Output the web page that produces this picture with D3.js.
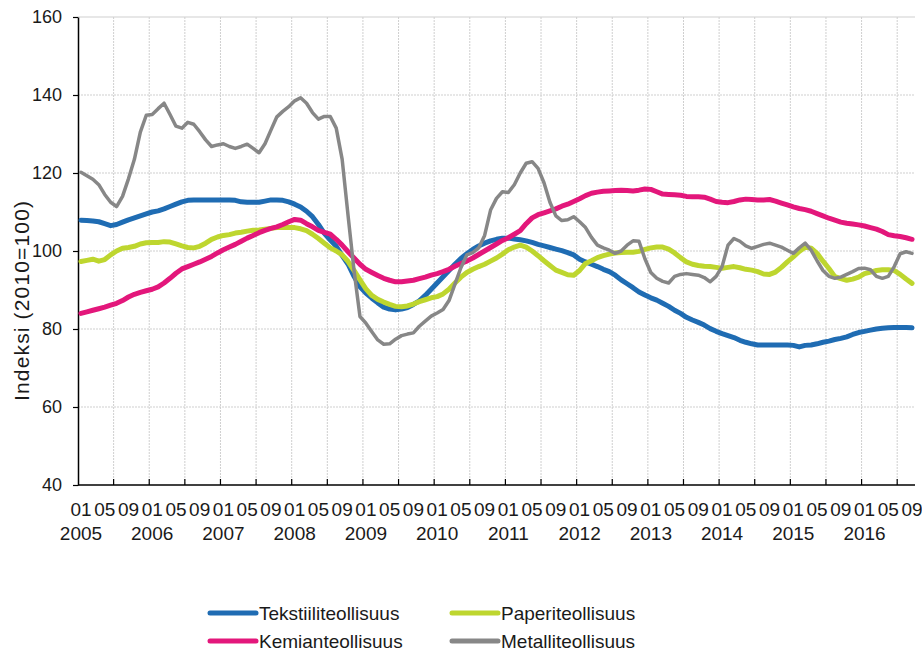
<!DOCTYPE html>
<html>
<head>
<meta charset="utf-8">
<script src="https://cdn.jsdelivr.net/npm/d3@7"></script>
<style>
body { margin: 0; background: #fff; }
text { font-family: "Liberation Sans", Arial, sans-serif; fill: #1a1a1a; }
</style>
</head>
<body>
<div class="chart"></div>
<script>
// categories
const years = [2005, 2006, 2007, 2008, 2009, 2010, 2011, 2012, 2013, 2014, 2015, 2016]
const lastMonth = 9            // data runs to 2016-09
const monthTickLabels = ["01", "05", "09"]
const yTicks = [40, 60, 80, 100, 120, 140, 160]

// series values, monthly, 2005-01 .. 2016-09
const tekstiili = [
    107.9, 107.8, 107.7, 107.5, 107.0, 106.5, 106.8, 107.4, 108.0, 108.5, 109.0, 109.5,
    110.0, 110.3, 110.8, 111.4, 112.0, 112.6, 113.0, 113.1, 113.1, 113.1, 113.1, 113.1,
    113.1, 113.1, 113.0, 112.6, 112.5, 112.5, 112.5, 112.8, 113.1, 113.1, 113.0, 112.6,
    112.0, 111.3, 110.2, 108.8, 106.8, 104.5, 102.8, 101.2, 98.8, 96.6, 93.5, 90.8,
    89.2, 87.9, 86.7, 85.6, 85.1, 84.9, 85.1, 85.5, 86.3, 87.2, 88.6, 90.2,
    91.8, 93.4, 95.0, 96.6, 98.1, 99.3, 100.4, 101.3, 102.0, 102.6, 103.0, 103.3,
    103.3, 103.1, 102.9, 102.6, 102.2, 101.7, 101.3, 100.9, 100.5, 100.1, 99.6, 99.0,
    97.9, 97.2, 96.6, 96.0, 95.3, 94.7, 93.8, 92.6, 91.6, 90.6, 89.5, 88.7,
    88.0, 87.4, 86.6, 85.8, 84.8, 84.0, 83.0, 82.3, 81.7, 81.0, 80.1, 79.4,
    78.8, 78.3, 77.8, 77.1, 76.6, 76.2, 75.9, 75.9, 75.9, 75.9, 75.9, 75.9,
    75.8, 75.4, 75.8, 75.9, 76.2, 76.6, 76.9, 77.3, 77.6, 78.0, 78.6, 79.1,
    79.4, 79.7, 80.0, 80.2, 80.3, 80.4, 80.4, 80.4, 80.3
]
const paperi = [
    97.3, 97.6, 97.9, 97.4, 97.8, 99.0, 100.0, 100.7, 100.9, 101.2, 101.8, 102.1,
    102.2, 102.2, 102.4, 102.3, 101.8, 101.3, 100.9, 100.8, 101.2, 102.0, 103.0, 103.6,
    104.0, 104.2, 104.6, 104.8, 105.1, 105.3, 105.4, 105.6, 105.8, 106.0, 106.0, 106.0,
    106.0, 105.7, 105.2, 104.3, 103.2, 102.0, 100.8, 100.0, 99.0, 97.3, 95.0, 92.6,
    90.3, 88.6, 87.6, 86.9, 86.3, 85.8, 85.7, 85.9, 86.4, 87.0, 87.5, 88.0,
    88.3, 89.0, 90.2, 91.8, 93.3, 94.5, 95.3, 96.0, 96.6, 97.4, 98.2, 99.2,
    100.3, 101.0, 101.5, 101.0, 100.0, 98.8, 97.5, 96.3, 95.1, 94.5, 93.9, 93.8,
    95.0, 96.8, 97.5, 98.3, 98.8, 99.2, 99.5, 99.6, 99.7, 99.7, 99.9, 100.4,
    100.8, 101.0, 101.0, 100.5, 99.5, 98.3, 97.2, 96.6, 96.3, 96.1, 96.0, 95.8,
    95.6, 95.8, 96.0, 95.7, 95.3, 95.1, 94.7, 94.1, 94.0, 94.6, 95.8, 97.2,
    98.5, 99.9, 101.0, 100.7, 99.4, 97.4, 95.5, 93.4, 92.9, 92.5, 92.8, 93.3,
    94.2, 94.6, 95.0, 95.2, 95.2, 95.0, 94.0, 92.8, 91.7
]
const kemian = [
    84.0, 84.4, 84.8, 85.2, 85.6, 86.1, 86.6, 87.3, 88.2, 88.9, 89.4, 89.8,
    90.2, 90.8, 91.8, 93.0, 94.3, 95.4, 96.0, 96.6, 97.2, 97.9, 98.6, 99.5,
    100.3, 101.0, 101.7, 102.5, 103.3, 104.0, 104.7, 105.3, 105.8, 106.2, 106.8, 107.5,
    108.1, 107.9, 107.0, 106.2, 105.3, 104.8, 104.3, 103.0, 101.5, 99.8, 98.2, 96.6,
    95.3, 94.5, 93.7, 93.0, 92.5, 92.1, 92.1, 92.3, 92.5, 92.9, 93.3, 93.8,
    94.2, 94.7, 95.3, 96.1, 96.8, 97.4, 98.2, 99.1, 100.0, 100.9, 101.8, 102.7,
    103.4, 104.3, 105.2, 107.0, 108.5, 109.3, 109.8, 110.3, 110.8, 111.5, 112.0, 112.7,
    113.4, 114.2, 114.8, 115.1, 115.3, 115.4, 115.5, 115.6, 115.5, 115.4, 115.6, 115.9,
    115.8, 115.2, 114.6, 114.5, 114.4, 114.3, 114.0, 113.9, 113.9, 113.8, 113.3, 112.7,
    112.5, 112.4, 112.7, 113.1, 113.3, 113.2, 113.1, 113.1, 113.2, 112.8, 112.3, 111.8,
    111.3, 110.9, 110.6, 110.2, 109.6, 109.0, 108.4, 107.9, 107.4, 107.1, 106.9, 106.7,
    106.4, 106.0, 105.6, 105.0, 104.2, 103.9, 103.7, 103.4, 103.0
]
const metalli = [
    120.2, 119.3, 118.4, 117.0, 114.5, 112.5, 111.4, 114.0, 118.5, 123.5, 130.5, 134.8,
    135.0, 136.5, 137.9, 135.0, 132.0, 131.5, 133.0, 132.5, 130.6, 128.5, 126.8, 127.2,
    127.5, 126.8, 126.3, 126.8, 127.4, 126.3, 125.2, 127.5, 131.0, 134.4, 135.8, 137.0,
    138.5, 139.3, 137.9, 135.5, 133.8, 134.5, 134.5, 131.5, 123.5, 109.0, 95.0, 83.2,
    81.5, 79.3, 77.2, 76.1, 76.2, 77.4, 78.3, 78.7, 79.0, 80.7, 82.0, 83.3,
    84.1, 85.0, 87.3, 91.5, 95.7, 99.0, 99.6, 100.8, 104.0, 110.5, 113.5, 115.2,
    115.0, 117.0, 120.0, 122.5, 122.9, 121.2, 117.5, 112.5, 109.0, 107.8, 108.0, 108.8,
    107.5, 106.0, 103.5, 101.5, 100.8, 100.2, 99.4, 100.0, 101.5, 102.6, 102.5, 98.0,
    94.5, 93.0, 92.2, 91.8, 93.5, 94.0, 94.2, 94.0, 93.8, 93.2, 92.1, 93.5,
    96.0, 101.5, 103.2, 102.5, 101.3, 100.7, 101.2, 101.7, 102.0, 101.5, 101.0, 100.2,
    99.4, 100.8, 102.0, 100.2, 97.5, 95.0, 93.5, 93.0, 93.3, 94.0, 94.7, 95.5,
    95.6, 95.2, 93.5, 93.0, 93.5, 96.0, 99.3, 99.8, 99.4
]

const seriesNames = ["Tekstiiliteollisuus", "Paperiteollisuus", "Kemianteollisuus", "Metalliteollisuus"]
const seriesValues = [tekstiili, paperi, kemian, metalli]
const seriesColors = ["#1f6cb3", "#bed62f", "#e3177b", "#878787"]
const seriesWidths = [5, 5, 5, 3.5]

const chart_param = {
    width: 922,
    height: 655,
    margin: { top: 17, right: 7, bottom: 170, left: 78 }
}

// month categories "2005-01" ...
const months = []
years.forEach(y => {
    const n = y === years[years.length - 1] ? lastMonth : 12
    for (let m = 1; m <= n; m++) months.push(y + "-" + String(m).padStart(2, "0"))
})

const plotBottom = chart_param.height - chart_param.margin.bottom
const plotRight = chart_param.width - chart_param.margin.right

const x = d3.scaleBand()
            .domain(months)
            .range([chart_param.margin.left, plotRight])
const cx = m => x(m) + x.bandwidth() / 2
const y = d3.scaleLinear()
            .domain([40, 160])
            .range([plotBottom, chart_param.margin.top])

const svg = d3.select(".chart").append("svg")
    .attr("width", chart_param.width)
    .attr("height", chart_param.height)

// grid
const gridMonths = months.filter((m, i) => i > 0 && (m.endsWith("-01") || m.endsWith("-07")))
svg.append("g").selectAll("line")
    .data(gridMonths).enter()
    .append("line")
    .attr("x1", d => x(d)).attr("x2", d => x(d))
    .attr("y1", chart_param.margin.top).attr("y2", plotBottom)
    .style("stroke", "#cfcfcf")
    .style("stroke-dasharray", "2,1")

svg.append("g").selectAll("line")
    .data(yTicks.filter(v => v > 40)).enter()
    .append("line")
    .attr("x1", chart_param.margin.left).attr("x2", plotRight)
    .attr("y1", d => y(d)).attr("y2", d => y(d))
    .style("stroke", "#cfcfcf")
    .style("stroke-dasharray", d => d === 160 ? null : "2,1")

// y axis
const yAxis = svg.append("g")
    .attr("transform", `translate(${chart_param.margin.left},0)`)
    .call(d3.axisLeft(y).tickValues(yTicks).tickSize(5).tickSizeOuter(0).tickPadding(11))
yAxis.select(".domain").style("stroke", "#000").style("stroke-width", 1.5)
yAxis.selectAll(".tick line").style("stroke", "#000").style("stroke-width", 1.2)
yAxis.selectAll(".tick text").style("font-size", "18px").style("font-family", "Liberation Sans, Arial, sans-serif").style("fill", "#1a1a1a")

svg.append("text")
    .attr("transform", "translate(21,301) rotate(-90)")
    .attr("text-anchor", "middle")
    .attr("dominant-baseline", "central")
    .attr("textLength", 200)
    .attr("lengthAdjust", "spacing")
    .style("font-size", "21px")
    .text("Indeksi (2010=100)")

// x axis
svg.append("line")
    .attr("x1", chart_param.margin.left).attr("x2", plotRight)
    .attr("y1", plotBottom).attr("y2", plotBottom)
    .style("stroke", "#000").style("stroke-width", 1.5)
svg.append("g").selectAll("line")
    .data(gridMonths).enter()
    .append("line")
    .attr("x1", d => x(d)).attr("x2", d => x(d))
    .attr("y1", plotBottom).attr("y2", plotBottom - 6)
    .style("stroke", "#000").style("stroke-width", 1.2)

svg.append("g").selectAll("text")
    .data(months.filter(m => monthTickLabels.includes(m.slice(5)))).enter()
    .append("text")
    .attr("x", d => cx(d))
    .attr("y", 516)
    .attr("text-anchor", "middle")
    .style("font-size", "19px")
    .text(d => d.slice(5))

svg.append("g").selectAll("text")
    .data(years).enter()
    .append("text")
    .attr("x", d => cx(d + "-01"))
    .attr("y", 540)
    .attr("text-anchor", "middle")
    .style("font-size", "19px")
    .text(d => d)

// lines
const line = d3.line()
    .x((d, i) => cx(months[i]))
    .y(d => y(d))

svg.append("g").selectAll("path")
    .data(seriesValues).enter()
    .append("path")
    .attr("d", d => line(d))
    .style("fill", "none")
    .style("stroke", (d, i) => seriesColors[i])
    .style("stroke-width", (d, i) => seriesWidths[i])
    .style("stroke-linejoin", "round")
    .style("stroke-linecap", "round")

// legend
const legendPos = [[210, 613], [452, 613], [210, 641], [452, 641]]
const legend = svg.append("g").selectAll("g")
    .data(seriesNames).enter()
    .append("g")
    .attr("transform", (d, i) => `translate(${legendPos[i][0]},${legendPos[i][1]})`)
legend.append("line")
    .attr("x1", 0).attr("x2", 46)
    .style("stroke", (d, i) => seriesColors[i])
    .style("stroke-width", 5)
    .style("stroke-linecap", "round")
legend.append("text")
    .attr("x", 49)
    .attr("dominant-baseline", "central")
    .style("font-size", "19px")
    .text(d => d)
</script>
</body>
</html>
